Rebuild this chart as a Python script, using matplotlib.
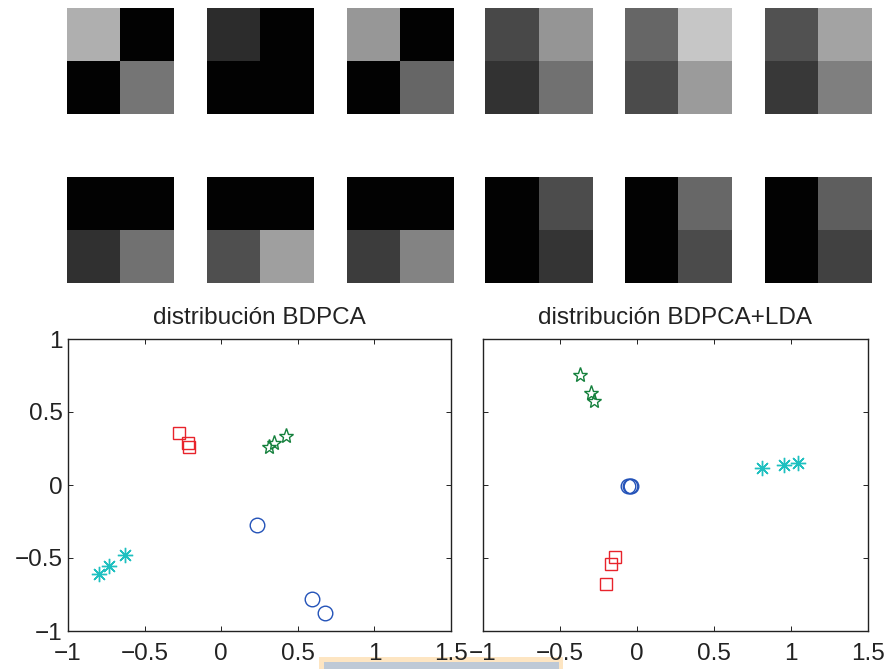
import matplotlib
matplotlib.use('Agg')
import matplotlib.pyplot as plt
from matplotlib.patches import Rectangle
import numpy as np

plt.rcParams['font.family'] = ['Liberation Sans', 'DejaVu Sans']

# 2x2 grey levels of the 12 basis images (row-major: TL, TR, BL, BR)
tiles_row1 = [
    [175, 2, 2, 117],
    [45, 2, 2, 2],
    [151, 2, 2, 102],
    [72, 149, 50, 113],
    [102, 198, 75, 155],
    [82, 164, 57, 127],
]
tiles_row2 = [
    [2, 2, 49, 113],
    [2, 2, 79, 159],
    [2, 2, 60, 131],
    [2, 76, 2, 53],
    [2, 103, 2, 75],
    [2, 94, 2, 66],
]

# BDPCA projection
pca_sq_x = [-0.277, -0.219, -0.208]
pca_sq_y = [0.354, 0.290, 0.258]
pca_st_x = [0.314, 0.347, 0.423]
pca_st_y = [0.262, 0.286, 0.338]
pca_ci_x = [0.232, 0.593, 0.680]
pca_ci_y = [-0.272, -0.781, -0.879]
pca_as_x = [-0.798, -0.732, -0.626]
pca_as_y = [-0.612, -0.553, -0.482]

# BDPCA+LDA projection
lda_sq_x = [-0.145, -0.169, -0.199]
lda_sq_y = [-0.495, -0.543, -0.676]
lda_st_x = [-0.370, -0.301, -0.279]
lda_st_y = [0.753, 0.628, 0.575]
lda_ci_x = [-0.056, -0.046, -0.040]
lda_ci_y = [-0.010, -0.006, -0.004]
lda_as_x = [0.812, 0.957, 1.043]
lda_as_y = [0.119, 0.137, 0.149]

titles = ['distribución BDPCA', 'distribución BDPCA+LDA']
xticks = [-1, -0.5, 0, 0.5, 1, 1.5]
yticks = [-1, -0.5, 0, 0.5, 1]

W, H = 887, 669
fig = plt.figure(figsize=(W / 100, H / 100), dpi=100)

def px_axes(x0, y0, x1, y1):
    # pixel box (top-left origin) -> figure axes
    return fig.add_axes([x0 / W, 1 - y1 / H, (x1 - x0) / W, (y1 - y0) / H])

# basis images
tile_x = [67, 207, 347, 485, 625, 765]
for row, (vals, (ty0, ty1)) in enumerate(zip([tiles_row1, tiles_row2], [(8, 114), (177, 283)])):
    for k, v in enumerate(vals):
        ax = px_axes(tile_x[k], ty0, tile_x[k] + 107, ty1)
        ax.imshow(np.array(v).reshape(2, 2), cmap='gray', vmin=0, vmax=255,
                  aspect='auto', interpolation='nearest')
        ax.axis('off')

# scatter panels
red, green, blue, cyan = '#e8232b', '#14803c', '#2352b8', '#1fc0c0'
data = [
    (pca_sq_x, pca_sq_y, pca_st_x, pca_st_y, pca_ci_x, pca_ci_y, pca_as_x, pca_as_y),
    (lda_sq_x, lda_sq_y, lda_st_x, lda_st_y, lda_ci_x, lda_ci_y, lda_as_x, lda_as_y),
]
boxes = [(68, 339, 451, 631), (483, 339, 868, 631)]
for i, (d, b) in enumerate(zip(data, boxes)):
    ax = px_axes(*b)
    sqx, sqy, stx, sty, cix, ciy, asx, asy = d
    ax.plot(sqx, sqy, 's', ls='none', mfc='none', mec=red, ms=9.3, mew=1.0)
    ax.plot(stx, sty, '*', ls='none', mfc='none', mec=green, ms=11, mew=1.0)
    ax.plot(cix, ciy, 'o', ls='none', mfc='none', mec=blue, ms=10.5, mew=1.0)
    ax.plot(asx, asy, marker=(8, 2, 0), ls='none', mec=cyan, ms=11, mew=1.0)
    ax.set_xlim(-1, 1.5)
    ax.set_ylim(-1, 1)
    ax.set_xticks(xticks)
    ax.set_xticklabels(['\u22121', '\u22120.5', '0', '0.5', '1', '1.5'])
    ax.set_yticks(yticks)
    if i == 0:
        ax.set_yticklabels(['\u22121', '\u22120.5', '0', '0.5', '1'])
    else:
        ax.set_yticklabels([])
    ax.tick_params(direction='in', top=True, right=True, length=3.5, width=0.7,
                   labelsize=17.5, colors='#222222')
    ax.tick_params(axis='x', pad=9)
    ax.tick_params(axis='y', pad=4)
    for s in ax.spines.values():
        s.set_linewidth(1.0)
        s.set_color('#222222')
    ax.set_title(titles[i], fontsize=17.5, color='#222222', pad=11)

# stray highlight box at the bottom of the screenshot
fig.add_artist(Rectangle((319 / W, 0), 244 / W, 12 / H, transform=fig.transFigure,
                         facecolor='#fde5c2', edgecolor='none', zorder=-1))
fig.add_artist(Rectangle((324 / W, 0), 235 / W, 7 / H, transform=fig.transFigure,
                         facecolor='#bec9d6', edgecolor='none', zorder=-1))

fig.savefig('out.png', dpi=100)
